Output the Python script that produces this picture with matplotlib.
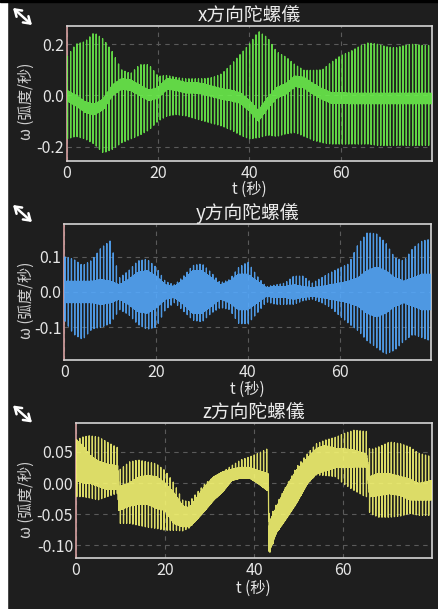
import numpy as np
import matplotlib
matplotlib.use('Agg')
import matplotlib.pyplot as plt
from matplotlib.patches import Rectangle, FancyArrowPatch

plt.rcParams['font.family'] = ['Noto Sans CJK TC', 'DejaVu Sans']
plt.rcParams['axes.unicode_minus'] = False

# ---------------- data (envelopes) ----------------
titles = ["x方向陀螺儀", "y方向陀螺儀", "z方向陀螺儀"]
xlabel = "t (秒)"
ylabel = "ω (弧度/秒)"
xticks = [0, 20, 40, 60]

# x gyro: knots every 2 s
x_t = np.arange(0, 82, 2)
x_hi = [0.15, 0.20, 0.21, 0.245, 0.22, 0.17, 0.10, 0.085, 0.12, 0.12, 0.075,
        0.078, 0.07, 0.065, 0.065, 0.065, 0.07, 0.085, 0.12, 0.16, 0.20,
        0.25, 0.225, 0.17, 0.15, 0.12, 0.098, 0.098, 0.10, 0.13, 0.155,
        0.17, 0.19, 0.205, 0.20, 0.19, 0.185, 0.195, 0.20, 0.195, 0.195]
x_lo = [-0.17, -0.16, -0.17, -0.19, -0.225, -0.21, -0.185, -0.17, -0.155, -0.135,
        -0.10, -0.08, -0.075, -0.08, -0.09, -0.10, -0.11, -0.12, -0.135, -0.155,
        -0.17, -0.165, -0.155, -0.16, -0.15, -0.145, -0.16, -0.175, -0.185, -0.19,
        -0.19, -0.19, -0.19, -0.19, -0.195, -0.196, -0.195, -0.195, -0.196, -0.195, -0.195]
x_mid = [0.0, -0.02, -0.045, -0.055, -0.035, 0.02, 0.045, 0.04, 0.02, 0.0, 0.01,
         0.045, 0.04, 0.03, 0.03, 0.025, 0.015, 0.005, 0.0, -0.01, -0.04,
         -0.08, -0.03, 0.01, 0.025, 0.055, 0.05, 0.025, 0.005, -0.01, -0.01,
         -0.012, -0.012, -0.012, -0.012, -0.012, -0.012, -0.012, -0.012, -0.012, -0.012]
x_half = [0.02] * 41
x_yticks = [-0.2, 0.0, 0.2]
x_ylim = (-0.256, 0.272)

# y gyro: knots every 2 s
y_t = np.arange(0, 82, 2)
y_hi = [0.10, 0.093, 0.075, 0.09, 0.125, 0.145, 0.04, 0.06, 0.088, 0.093, 0.07,
        0.03, 0.02, 0.045, 0.075, 0.08, 0.055, 0.026, 0.035, 0.07, 0.085,
        0.045, 0.015, 0.02, 0.025, 0.045, 0.045, 0.025, 0.04, 0.055, 0.068,
        0.08, 0.135, 0.168, 0.165, 0.14, 0.097, 0.088, 0.125, 0.145, 0.15]
y_lo = [-0.08, -0.12, -0.135, -0.105, -0.1, -0.09, -0.05, -0.064, -0.092, -0.106,
        -0.1, -0.05, -0.03, -0.055, -0.08, -0.085, -0.06, -0.044, -0.05, -0.09,
        -0.09, -0.06, -0.028, -0.035, -0.035, -0.035, -0.025, -0.02, -0.03, -0.044,
        -0.068, -0.09, -0.11, -0.139, -0.158, -0.176, -0.165, -0.139, -0.12, -0.13, -0.14]
y_mid = [0.0] * 41
y_half = [0.03, 0.03, 0.03, 0.03, 0.035, 0.03, 0.02, 0.035, 0.055, 0.06, 0.045,
          0.02, 0.015, 0.035, 0.06, 0.06, 0.04, 0.02, 0.03, 0.05, 0.05,
          0.03, 0.012, 0.015, 0.015, 0.02, 0.015, 0.012, 0.015, 0.02, 0.025,
          0.03, 0.04, 0.06, 0.07, 0.06, 0.04, 0.03, 0.04, 0.05, 0.05]
y_yticks = [-0.1, 0.0, 0.1]
y_ylim = (-0.193, 0.192)

# z gyro: irregular knots (sharp jumps)
z_t = [0, 1.5, 3, 5, 7, 9, 9.4, 9.6, 12, 14, 16, 18, 20, 22, 24, 25.5, 27, 29, 31,
       33, 35, 37, 39, 41, 43, 43.2, 43.4, 44, 45, 47, 49.5, 52, 54, 56, 58.5, 60,
       62.5, 65, 65.3, 66, 68, 70.5, 73, 75, 77, 80]
z_hi = [0.069, 0.074, 0.076, 0.074, 0.066, 0.058, 0.057, 0.02, 0.034, 0.037, 0.034,
        0.031, 0.02, 0.0, -0.028, -0.03, -0.017, -0.001, 0.01, 0.018, 0.028, 0.037,
        0.042, 0.048, 0.055, 0.055, -0.06, -0.049, -0.035, -0.008, 0.025, 0.047,
        0.063, 0.069, 0.074, 0.079, 0.085, 0.083, 0.083, 0.053, 0.058, 0.066,
        0.063, 0.058, 0.048, 0.042]
z_lo = [-0.022, -0.022, -0.024, -0.027, -0.022, -0.017, -0.017, -0.065, -0.065,
        -0.068, -0.071, -0.073, -0.076, -0.076, -0.077, -0.072, -0.06, -0.044,
        -0.027, -0.014, 0.004, 0.008, 0.008, -0.001, -0.012, -0.012, -0.114, -0.103,
        -0.081, -0.06, -0.033, -0.001, 0.013, 0.012, 0.01, -0.001, -0.012, -0.022,
        -0.022, -0.049, -0.055, -0.055, -0.053, -0.049, -0.052, -0.052]
z_bhi = [0.069, 0.06, 0.045, 0.035, 0.03, 0.028, 0.028, -0.006, 0.0, 0.009, 0.012,
         0.01, 0.0, -0.016, -0.037, -0.04, -0.025, -0.005, 0.01, 0.018, 0.022,
         0.025, 0.025, 0.02, 0.015, 0.015, -0.07, -0.055, -0.04, -0.01, 0.02, 0.04,
         0.055, 0.06, 0.055, 0.055, 0.053, 0.047, 0.047, 0.01, 0.015, 0.015, 0.01,
         0.006, -0.001, 0.004]
z_blo = [0.005, 0.0, 0.0, -0.005, -0.01, -0.01, -0.01, -0.044, -0.037, -0.034,
         -0.034, -0.04, -0.044, -0.065, -0.07, -0.07, -0.06, -0.044, -0.027, -0.014,
         0.004, 0.008, 0.008, -0.001, -0.012, -0.012, -0.11, -0.1, -0.08, -0.06,
         -0.033, -0.001, 0.015, 0.02, 0.025, 0.025, 0.026, 0.026, 0.026, -0.022,
         -0.02, -0.017, -0.02, -0.027, -0.027, -0.027]
z_yticks = [-0.10, -0.05, 0.00, 0.05]
z_ylim = (-0.121, 0.096)

colors = ['#6cf24c', '#55aaff', '#f8f872']

# ---------------- drawing ----------------
BG = '#1e1e1e'
W, H = 438, 609
fig = plt.figure(figsize=(W / 100, H / 100), dpi=100, facecolor=BG)


def signal(t, hi, lo, bhi, blo, tmax=79.9, period=0.7, step=0.05):
    xs, ys = [], []
    for s in np.arange(0.15, tmax, period):
        m = 0.5 * (np.interp(s, t, bhi) + np.interp(s, t, blo))
        xs += [s, s + 0.01, s + 0.03, s + 0.05]
        ys += [m, np.interp(s, t, hi), np.interp(s, t, lo), m]
        tt = np.arange(s + 0.05 + step, min(s + period, tmax), step)
        for j, u in enumerate(tt):
            xs.append(u)
            ys.append(np.interp(u, t, bhi) if j % 2 == 0 else np.interp(u, t, blo))
    return np.array(xs), np.array(ys)


panels = [
    dict(rect=[66.7, 25.7, 431.5, 161], t=x_t, hi=x_hi, lo=x_lo,
         bhi=np.array(x_mid) + np.array(x_half), blo=np.array(x_mid) - np.array(x_half),
         yt=x_yticks, yl=x_ylim, fmt='{:.1f}'),
    dict(rect=[64.3, 224.3, 431.0, 360], t=y_t, hi=y_hi, lo=y_lo,
         bhi=np.array(y_mid) + np.array(y_half), blo=np.array(y_mid) - np.array(y_half),
         yt=y_yticks, yl=y_ylim, fmt='{:.1f}'),
    dict(rect=[76.0, 423.3, 431.5, 558.3], t=z_t, hi=z_hi, lo=z_lo,
         bhi=z_bhi, blo=z_blo, yt=z_yticks, yl=z_ylim, fmt='{:.2f}'),
]

for i, p in enumerate(panels):
    x0, y0, x1, y1 = p['rect']
    ax = fig.add_axes([x0 / W, 1 - y1 / H, (x1 - x0) / W, (y1 - y0) / H])
    ax.set_facecolor(BG)
    xs, ys = signal(p['t'], p['hi'], p['lo'], p['bhi'], p['blo'])
    ax.plot(xs, ys, color=colors[i], lw=0.9, alpha=0.88, zorder=3)
    ax.set_xlim(0, 79.9)
    ax.set_ylim(*p['yl'])
    ax.set_xticks(xticks)
    ax.set_yticks(p['yt'])
    ax.set_yticklabels([p['fmt'].format(v) for v in p['yt']])
    ax.tick_params(length=0, colors='#e6e6e6', labelsize=11.5)
    ax.tick_params(axis='y', pad=2)
    ax.tick_params(axis='x', pad=3)
    ax.grid(True, color='#5a5a5a', lw=0.8, linestyle=(0, (4, 4)), zorder=1)
    for name, sp in ax.spines.items():
        sp.set_color('#d4d4d4')
        sp.set_linewidth(1.2)
    ax.spines['left'].set_color('#d9a3a3')
    ax.set_title(titles[i], color='#ececec', fontsize=13.5, pad=3)
    ax.set_xlabel(xlabel, color='#e6e6e6', fontsize=11)
    ax.xaxis.set_label_coords(0.5, -0.15 - 0.005 * i)
    ax.set_ylabel(ylabel, color='#d0d0d0', fontsize=11)
    ax.yaxis.set_label_coords((35 - x0) / (x1 - x0), 0.44)

    # expand icon
    cy = [16.5, 213.5, 414][i]
    a = FancyArrowPatch((13 / W, 1 - (cy - 8.5) / H), (32 / W, 1 - (cy + 8.5) / H),
                        transform=fig.transFigure,
                        arrowstyle='<->,head_length=4.5,head_width=3',
                        color='white', lw=1.8, mutation_scale=1,
                        shrinkA=0, shrinkB=0)
    fig.add_artist(a)

# frame strips of the screenshot
fig.add_artist(Rectangle((0, 0), 7 / W, 1, transform=fig.transFigure, color='white', zorder=10))
fig.add_artist(Rectangle((0, 1 - 1.5 / H), 1, 1.5 / H, transform=fig.transFigure, color='black', zorder=10))

fig.savefig('out.png', dpi=100, facecolor=BG)
